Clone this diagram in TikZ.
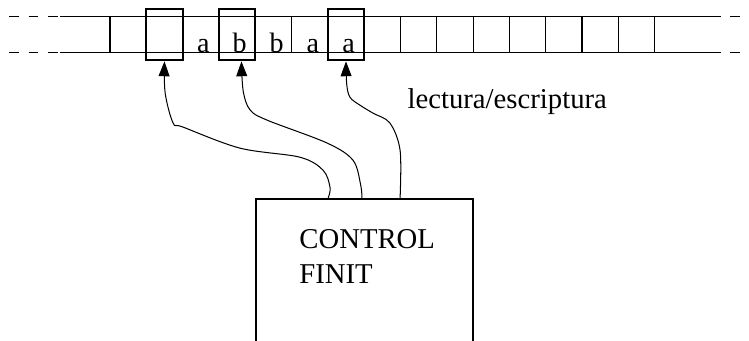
\documentclass[tikz,border=0pt]{standalone}
\usepackage{fontspec}
\setmainfont{Liberation Serif}
\usetikzlibrary{positioning,arrows.meta}

\begin{document}
\begin{tikzpicture}[>={Triangle[length=0.41cm,width=0.3cm]},
    tapeline/.style={line width=0.8pt},
    tapeend/.style={line width=0.8pt, dash pattern=on 0.27cm off 0.27cm},
    headbox/.style={draw, line width=1.7pt, minimum width=1cm, minimum height=1.41cm, inner sep=0pt},
    symb/.style={font=\fontsize{22}{22}\selectfont, inner sep=0pt, anchor=base},
    ctrlbox/.style={draw, line width=1.5pt, minimum width=5.98cm, minimum height=4.4cm, inner sep=0pt, anchor=north west},
    bigtext/.style={font=\fontsize{22.5}{27.4}\selectfont, inner sep=0pt, align=left},
    wire/.style={->, line width=0.8pt}
]

    \useasboundingbox (0, 0) rectangle (20.63, 9.37);
    \clip (0, 0) rectangle (20.63, 9.37);

    % Cinta
    \draw[tapeline] (1.65, 8.92) -- (19.86, 8.92);
    \draw[tapeline] (1.65, 7.92) -- (19.86, 7.92);
    \draw[tapeend] (0.25, 8.92) -- (1.65, 8.92);
    \draw[tapeend] (0.25, 7.92) -- (1.65, 7.92);
    \draw[tapeend] (20.11, 8.92) -- (20.63, 8.92);
    \draw[tapeend] (20.11, 7.92) -- (20.63, 7.92);
    \foreach \k in {0,...,15}
        \draw[tapeline] (3.03+\k, 7.92) -- (3.03+\k, 8.92);

    % Simbols
    \node[symb] (s2) at (5.60, 7.93) {a};
    \node[symb] (s3) at (6.60, 7.93) {b};
    \node[symb] (s4) at (7.62, 7.93) {b};
    \node[symb] (s5) at (8.62, 7.93) {a};
    \node[symb] (s6) at (9.60, 7.93) {a};

    % Capcals
    \node[headbox] (head1) at (4.53, 8.415) {};
    \node[headbox] (head2) at (6.53, 8.415) {};
    \node[headbox] (head3) at (9.53, 8.415) {};

    % Control finit
    \node[ctrlbox] (ctrl) at (7.03, 3.92) {};
    \node[bigtext, anchor=base west] (ctrltext) at (8.24, 1.57) {CONTROL\\FINIT};

    \node[bigtext, anchor=base west] (rw) at (11.22, 6.39) {lectura/escriptura};

    % Connexions
    \draw[wire] plot[smooth, tension=0.55] coordinates {([xshift=2.01cm]ctrl.north west) (9.09, 4.21) (8.90, 4.68) (8.26, 5.04) (6.61, 5.29) (5.04, 5.87) (4.77, 5.98) (4.55, 6.80) (head1.south)};
    \draw[wire] plot[smooth, tension=0.55] coordinates {([xshift=2.94cm]ctrl.north west) (9.93, 4.30) (9.72, 4.96) (9.01, 5.43) (7.36, 6.06) (6.89, 6.34) (6.70, 6.85) ([xshift=0.12cm]head2.south)};
    \draw[wire] plot[smooth, tension=0.55] coordinates {([xshift=3.99cm]ctrl.north west) (11.02, 5.23) (10.74, 5.98) (10.28, 6.25) (9.92, 6.47) (9.64, 6.69) (9.55, 7.05) (head3.south)};

\end{tikzpicture}
\end{document}
